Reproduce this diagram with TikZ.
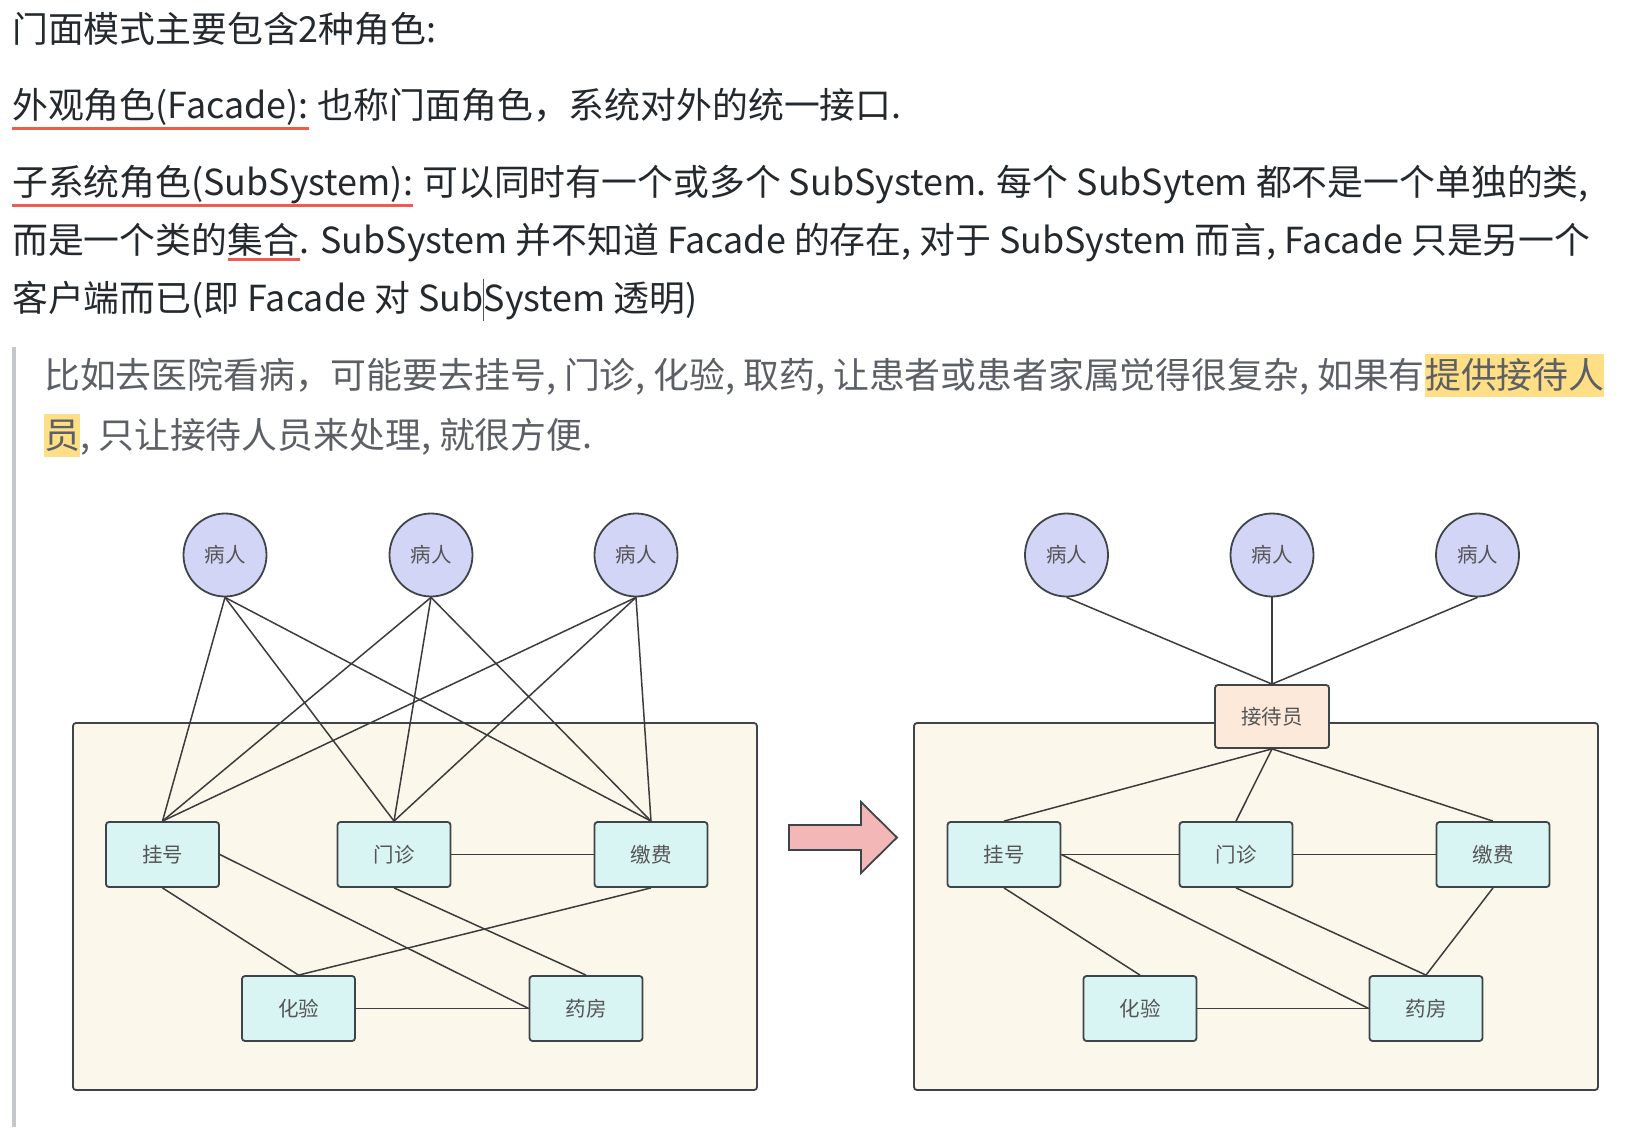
\documentclass[tikz,border=0pt]{standalone}
\usepackage{fontspec}
\setmainfont{Noto Sans CJK SC}
\definecolor{txt}{HTML}{24292E}
\definecolor{qtxt}{HTML}{5C6066}
\definecolor{uline}{HTML}{F25A4E}
\definecolor{hl}{HTML}{FEDF85}
\definecolor{qbar}{HTML}{C4C7CC}
\definecolor{edgec}{HTML}{3C3C3C}
\definecolor{border}{HTML}{3F4448}
\definecolor{patfill}{HTML}{D3D5F7}
\definecolor{boxfill}{HTML}{D8F4F3}
\definecolor{contfill}{HTML}{FBF8EB}
\definecolor{recfill}{HTML}{FCE9DA}
\definecolor{arrfill}{HTML}{F4B7B7}
\definecolor{lbl}{HTML}{555555}
\definecolor{caretc}{HTML}{555555}
\begin{document}
\begin{tikzpicture}[x=1pt,y=-1pt,
  tline/.style={anchor=base west, inner sep=0pt, font=\fontsize{35.85}{40}\selectfont, text=txt},
  qline/.style={tline, text=qtxt},
  hlbox/.style={qline, fill=hl, text height=34.5pt, text depth=8.5pt},
  ul/.style={draw=uline, line width=3pt},
  ulthin/.style={draw=uline, line width=2.5pt},
  patient/.style={circle, draw=border, line width=1.8pt, fill=patfill, minimum size=83pt, inner sep=0pt, font=\fontsize{20.5}{24}\selectfont, text=lbl},
  subbox/.style={rectangle, rounded corners=3pt, draw=border, line width=1.8pt, fill=boxfill, minimum width=113pt, minimum height=65pt, inner sep=0pt, font=\fontsize{20.5}{24}\selectfont, text=lbl},
  recbox/.style={subbox, fill=recfill, minimum width=114pt, minimum height=63pt},
  cont/.style={draw=border, line width=1.8pt, fill=contfill, rounded corners=3pt},
  conn/.style={draw=edgec, line width=1.5pt},
]
\useasboundingbox (0,0) rectangle (1626,1137);
\fill[white] (0,0) rectangle (1626,1137);

% ---------- text ----------
\node[tline] (t1) at (12,42.5) {门面模式主要包含2种角色:};

\node[tline] (t2a) at (12,118.5) {外观角色(Facade):};
\node[tline] (t2b) at ([xshift=9pt]t2a.base east) {也称门面角色，系统对外的统一接口.};
\draw[ul] ([yshift=-10.5pt]t2a.base west) -- ([yshift=-10.5pt]t2a.base east);

\node[tline] (t3a) at (12,195.5) {子系统角色(SubSystem):};
\node[tline] (t3b) at ([xshift=9pt]t3a.base east) {可以同时有一个或多个 SubSystem. 每个 SubSytem 都不是一个单独的类,};
\draw[ul] ([yshift=-10pt]t3a.base west) -- ([yshift=-10pt]t3a.base east);

\node[tline] (t4a) at (12,253.5) {而是一个类的};
\node[tline] (t4b) at (t4a.base east) {集合};
\node[tline] (t4c) at (t4b.base east) {. SubSystem 并不知道 Facade 的存在, 对于 SubSystem 而言, Facade 只是另一个};
\draw[ulthin] ([yshift=-6pt]t4b.base west) -- ([yshift=-6pt]t4b.base east);

\node[tline] (t5a) at (12,311.5) {客户端而已(即 Facade 对 Sub};
\node[tline] (t5b) at (t5a.base east) {System 透明)};
\draw[caretc, line width=1pt] ([yshift=33pt]t5a.base east) -- ([yshift=-9pt]t5a.base east);

% quote
\fill[qbar] (12,347) rectangle (16,1127);
\node[qline] (q1a) at (44,388.5) {比如去医院看病，可能要去挂号, 门诊, 化验, 取药, 让患者或患者家属觉得很复杂, 如果有};
\node[hlbox] (q1b) at (q1a.base east) {提供接待人};
\node[hlbox] (q2a) at (44,448.5) {员};
\node[qline] (q2b) at (q2a.base east) {, 只让接待人员来处理, 就很方便.};

% ---------- left diagram ----------
\draw[cont] (73,723) rectangle (757,1090);
\node[patient] (p1) at (225,555) {病人};
\node[patient] (p2) at (431,555) {病人};
\node[patient] (p3) at (636,555) {病人};
\node[subbox] (g1) at (162.5,854.5) {挂号};
\node[subbox] (m1) at (394,854.5) {门诊};
\node[subbox] (j1) at (651,854.5) {缴费};
\node[subbox] (h1) at (298.5,1008.5) {化验};
\node[subbox] (y1) at (586,1008.5) {药房};
\foreach \p in {p1,p2,p3}{
  \foreach \b in {g1,m1,j1}{
    \draw[conn] (\p.south) -- (\b.north);
  }
}
\draw[conn] (m1.east) -- (j1.west);
\draw[conn] (g1.south) -- (h1.north);
\draw[conn] (g1.east) -- (y1.west);
\draw[conn] (m1.south) -- (y1.north);
\draw[conn] (j1.south) -- (h1.north);
\draw[conn] (h1.east) -- (y1.west);

% ---------- arrow ----------
\draw[fill=arrfill, draw=border, line width=1.8pt, line join=miter]
  (789,825) -- (861,825) -- (861,802) -- (897,837.5) -- (861,873) -- (861,850) -- (789,850) -- cycle;

% ---------- right diagram ----------
\draw[cont] (914,723) rectangle (1598,1090);
\node[patient] (p4) at (1066.5,555) {病人};
\node[patient] (p5) at (1272,555) {病人};
\node[patient] (p6) at (1477.5,555) {病人};
\node[recbox] (r) at (1272,716.5) {接待员};
\node[subbox] (g2) at (1004,854.5) {挂号};
\node[subbox] (m2) at (1236,854.5) {门诊};
\node[subbox] (j2) at (1493,854.5) {缴费};
\node[subbox] (h2) at (1140,1008.5) {化验};
\node[subbox] (y2) at (1426,1008.5) {药房};
\foreach \p in {p4,p5,p6}{
  \draw[conn] (\p.south) -- (r.north);
}
\foreach \b in {g2,m2,j2}{
  \draw[conn] (r.south) -- (\b.north);
}
\draw[conn] (g2.east) -- (m2.west);
\draw[conn] (m2.east) -- (j2.west);
\draw[conn] (g2.east) -- (y2.west);
\draw[conn] (g2.south) -- (h2.north);
\draw[conn] (m2.south) -- (y2.north);
\draw[conn] (j2.south) -- (y2.north);
\draw[conn] (h2.east) -- (y2.west);
\end{tikzpicture}
\end{document}
